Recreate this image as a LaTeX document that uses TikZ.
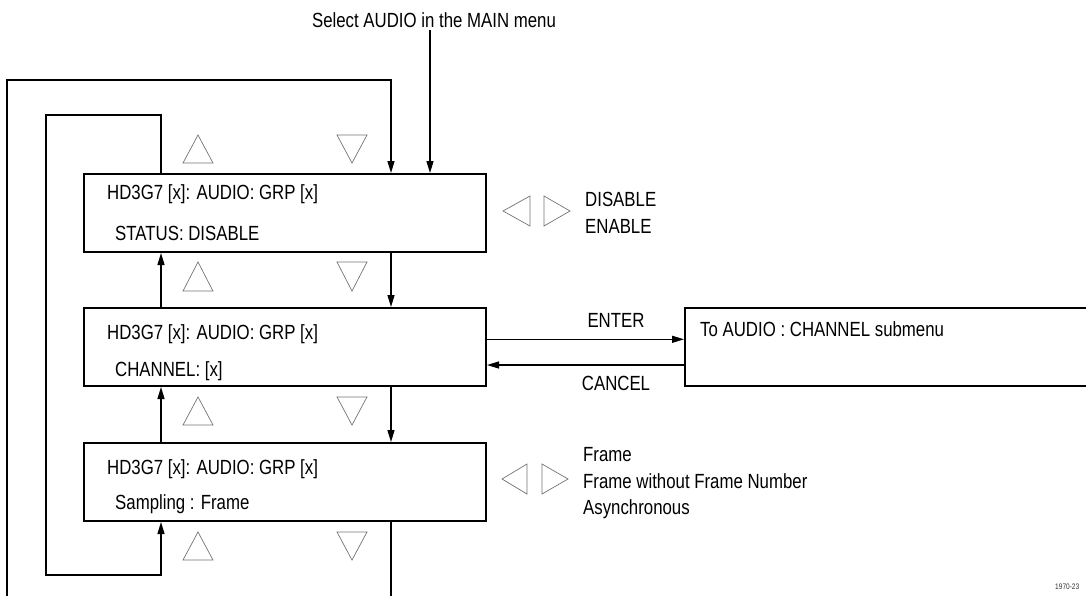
\documentclass[tikz,border=0pt]{standalone}
\usepackage{fontspec}
\setmainfont{Liberation Sans}[FakeStretch=0.82]
\usetikzlibrary{arrows.meta}
\begin{document}
\begin{tikzpicture}[x=1pt,y=-1pt,
  menubox/.style={draw,line width=2pt,rectangle,inner sep=0pt,minimum height=78pt,anchor=north west},
  txt/.style={anchor=base west,inner sep=0pt,font=\fontsize{20.5}{24}\selectfont},
  ctxt/.style={anchor=base,inner sep=0pt,font=\fontsize{20.5}{24}\selectfont},
  conn/.style={line width=1.3pt},
  arr/.style={line width=1.3pt,-{Triangle[length=12pt,width=7pt]}},
  tri/.style={draw=black!55,line width=0.7pt}]
\useasboundingbox (0,0) rectangle (1086,595);
\clip (0,0) rectangle (1086,595);
% boxes
\node[menubox,minimum width=402pt] (box1) at (83,173) {};
\node[menubox,minimum width=402pt] (box2) at (83,307) {};
\node[menubox,minimum width=402pt] (box3) at (83,442) {};
\node[menubox,minimum width=420pt] (sub) at (684,307) {};
% box texts
\node[txt] (b1a) at (107,199) {HD3G7 [x]: AUDIO: GRP [x]};
\node[txt] (b1b) at (115,240) {STATUS: DISABLE};
\node[txt] (b2a) at (107,339) {HD3G7 [x]: AUDIO: GRP [x]};
\node[txt] (b2b) at (115,376) {CHANNEL: [x]};
\node[txt] (b3a) at (107,474) {HD3G7 [x]: AUDIO: GRP [x]};
\node[txt] (b3b) at (115,509) {Sampling : Frame};
\node[txt] (subt) at (700,336) {To AUDIO : CHANNEL submenu};
% side texts
\node[txt] (dis) at (585,206.5) {DISABLE};
\node[txt] (ena) at (585,233) {ENABLE};
\node[txt] (fr1) at (583,461.5) {Frame};
\node[txt] (fr2) at (583,488) {Frame without Frame Number};
\node[txt] (fr3) at (583,514) {Asynchronous};
\node[ctxt] (enter) at (616,327) {ENTER};
\node[ctxt] (cancel) at (616,390.5) {CANCEL};
\node[ctxt] (sel) at (434,27) {Select AUDIO in the MAIN menu};
\node[anchor=base west,inner sep=0pt,font=\fontsize{8}{9}\selectfont,text=black!80] (fig) at (1055,589) {1970-23};
% helper coordinates
\coordinate (xr) at (391,0);
\coordinate (xl) at (161,0);
\coordinate (xs) at (430,0);
\coordinate (selbot) at (430,30);
\coordinate (ye) at (0,339.3);
\coordinate (yc) at (0,365);
\coordinate (obl) at (7,600);
\coordinate (otl) at (7,80);
\coordinate (itl) at (46,115);
\coordinate (ibl) at (46,575);
\coordinate (rbot) at (391,600);
% connectors
\draw[arr] (selbot) -- (xs |- box1.north);
\draw[arr] (obl) -- (otl) -| (xr |- box1.north);
\draw[arr] (xr |- box1.south) -- (xr |- box2.north);
\draw[arr] (xr |- box2.south) -- (xr |- box3.north);
\draw[conn] (xr |- box3.south) -- (rbot);
\draw[arr] (xl |- box1.north) |- (itl) -- (ibl) -| (xl |- box3.south);
\draw[arr] (xl |- box2.north) -- (xl |- box1.south);
\draw[arr] (xl |- box3.north) -- (xl |- box2.south);
\draw[arr] (box2.east |- ye) -- (sub.west |- ye);
\draw[arr] (sub.west |- yc) -- (box2.east |- yc);
% up/down triangles
\foreach \t/\b in {135/163,262/291,397/425,532/560}{
  \draw[tri] (198,\t) -- (213,\b) -- (183,\b) -- cycle;
  \draw[tri] (337,\t) -- (367,\t) -- (352,\b) -- cycle;
}
% left/right triangles
\draw[tri] (503,211) -- (530,196) -- (530,226) -- cycle;
\draw[tri] (570,211) -- (544,196) -- (544,226) -- cycle;
\draw[tri] (502,479) -- (527,464) -- (527,494) -- cycle;
\draw[tri] (568,479) -- (542,464) -- (542,494) -- cycle;
\end{tikzpicture}
\end{document}
